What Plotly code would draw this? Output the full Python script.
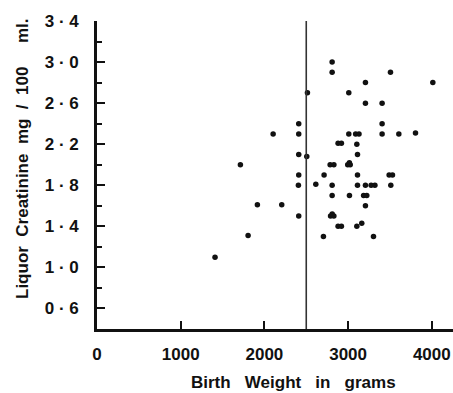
import plotly.graph_objects as go

birth_weight = [1410, 1713, 1805, 1916, 2104, 2207, 2410, 2410, 2410, 2410, 2406, 2410,
                2514, 2506, 2614, 2713, 2705, 2809, 2809, 2785, 2830, 2809, 2809,
                2790, 2810, 2830, 2880, 2920, 2880, 2920, 3008, 3008, 2995, 3015, 3025,
                3016, 3090, 3130, 3104, 3112, 3112, 3112, 3104, 3163, 3207, 3207, 3207,
                3185, 3223, 3207, 3303, 3275, 3320, 3406, 3406, 3406, 3506, 3490, 3530,
                3510, 3606, 3805, 4012]
creatinine = [1.10, 2.00, 1.31, 1.61, 2.30, 1.61, 2.40, 2.30, 2.10, 1.90, 1.80, 1.50,
              2.70, 2.08, 1.81, 1.90, 1.30, 3.00, 2.90, 2.00, 2.00, 1.80, 1.70,
              1.50, 1.52, 1.50, 1.40, 1.40, 2.21, 2.21, 2.70, 2.30, 2.00, 2.02, 2.00,
              1.70, 2.30, 2.30, 2.20, 2.10, 1.90, 1.80, 1.40, 1.43, 2.80, 2.60, 1.80,
              1.70, 1.70, 1.60, 1.30, 1.80, 1.80, 2.60, 2.40, 2.30, 2.90, 1.90, 1.90,
              1.80, 2.30, 2.31, 2.80]

y_tickvals = [0.6, 1.0, 1.4, 1.8, 2.2, 2.6, 3.0, 3.4]
y_ticktext = ["0 · 6", "1 · 0", "1 · 4", "1 · 8", "2 · 2", "2 · 6", "3 · 0", "3 · 4"]
y_minorvals = [0.4, 0.8, 1.2, 1.6, 2.0, 2.4, 2.8, 3.2]
x_tickvals = [0, 1000, 2000, 3000, 4000]
x_ticktext = ["0", "1000", "2000", "3000", "4000"]
threshold_weight = 2500

FONT = "Liberation Sans"
INK = "#111111"

fig = go.Figure()
fig.add_trace(go.Scatter(
    x=birth_weight, y=creatinine, mode="markers",
    marker=dict(size=5.5, color=INK), showlegend=False, hoverinfo="skip",
))

fig.add_shape(type="line", x0=threshold_weight, x1=threshold_weight, y0=0.4, y1=3.4,
              xref="x", yref="y", line=dict(color="#333333", width=1.6))

fig.update_xaxes(
    range=[0, 4253], tickvals=x_tickvals, ticktext=x_ticktext, automargin=False,
    ticks="inside", ticklen=8, tickwidth=2, tickcolor=INK,
    showline=True, linewidth=2.5, linecolor=INK, showgrid=False, zeroline=False,
    tickfont=dict(family=FONT, size=17, color=INK, weight="bold"), ticklabelstandoff=8,
)
fig.update_yaxes(
    range=[0.4, 3.4], tickvals=y_tickvals, ticktext=y_ticktext, automargin=False,
    ticks="inside", ticklen=8, tickwidth=2, tickcolor=INK,
    minor=dict(tickvals=y_minorvals, ticks="inside", ticklen=5, tickwidth=1.5, tickcolor=INK),
    showline=True, linewidth=2.5, linecolor=INK, showgrid=False, zeroline=False,
    tickfont=dict(family=FONT, size=17, color=INK, weight="bold"), ticklabelstandoff=12,
)

fig.add_annotation(text="Birth   Weight   in   grams", xref="paper", yref="paper",
                   x=(293 - 97) / 356, y=-(382 - 329) / 308, showarrow=False,
                   font=dict(family=FONT, size=17, color=INK, weight="bold"),
                   xanchor="center", yanchor="middle")
fig.add_annotation(text="Liquor  Creatinine  mg  /  100     ml.", xref="paper", yref="paper",
                   x=-(97 - 22) / 356, y=(329 - 159) / 308, showarrow=False, textangle=-90,
                   font=dict(family=FONT, size=17, color=INK, weight="bold"),
                   xanchor="center", yanchor="middle")

fig.update_layout(
    width=453, height=393, margin=dict(l=97, r=0, t=21, b=64),
    plot_bgcolor="white", paper_bgcolor="white",
)
fig.write_html("out.html", config={"displayModeBar": False},
               post_script="document.body.style.margin='0';")
